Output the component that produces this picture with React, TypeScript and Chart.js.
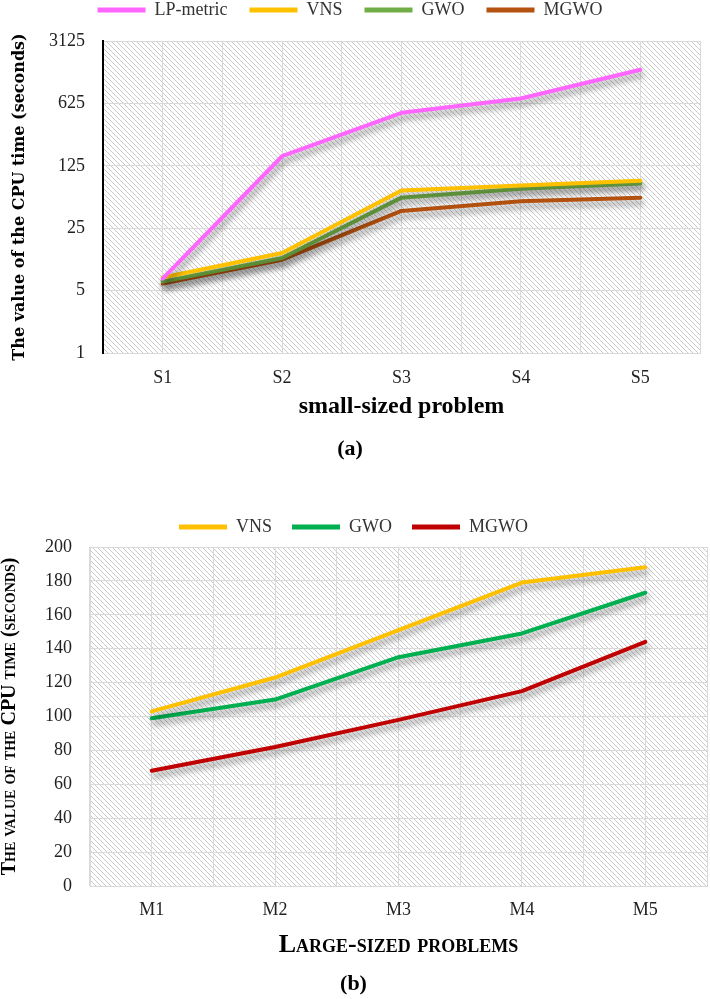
import React, { useEffect, useRef } from 'react';
import { Chart, registerables } from 'chart.js';

Chart.register(...registerables);

// ---------- data: panel (a) ----------
const smallProblems = ['S1', 'S2', 'S3', 'S4', 'S5'];
const lpMetricSmall = [6.8, 160, 490, 710, 1490];
const vnsSmall = [7.0, 13.2, 66, 75, 85];
const gwoSmall = [6.3, 11.6, 55, 69, 79];
const mgwoSmall = [6.0, 11.1, 39, 50, 55];
const logTicksSmall = [1, 5, 25, 125, 625, 3125];

// ---------- data: panel (b) ----------
const largeProblems = ['M1', 'M2', 'M3', 'M4', 'M5'];
const vnsLarge = [103, 123, 151, 179, 188];
const gwoLarge = [99, 110, 135, 149, 173];
const mgwoLarge = [68, 82, 98, 115, 144];
const linearTicksLarge = [0, 20, 40, 60, 80, 100, 120, 140, 160, 180, 200];

const GRID = '#d9d9d9';
const SERIF = "'Liberation Serif', 'Times New Roman', serif";

function makeHatch(ctx: CanvasRenderingContext2D) {
  const n = 5;
  const c = document.createElement('canvas');
  c.width = n;
  c.height = n;
  const g = c.getContext('2d')!;
  g.fillStyle = '#ffffff';
  g.fillRect(0, 0, n, n);
  g.strokeStyle = '#cacaca';
  g.lineWidth = 1;
  g.beginPath();
  g.moveTo(-1, -1);
  g.lineTo(n + 1, n + 1);
  g.moveTo(n - 1, -1);
  g.lineTo(n + 1, 1);
  g.moveTo(-1, n - 1);
  g.lineTo(1, n + 1);
  g.stroke();
  return ctx.createPattern(c, 'repeat');
}

const hatchPlugin = {
  id: 'hatchBg',
  beforeDraw(chart: any) {
    const { ctx, chartArea } = chart;
    if (!chartArea) return;
    const pat = makeHatch(ctx);
    ctx.save();
    ctx.fillStyle = pat || '#fff';
    ctx.fillRect(chartArea.left, chartArea.top, chartArea.right - chartArea.left, chartArea.bottom - chartArea.top);
    ctx.restore();
  },
};

const shadowPlugin = {
  id: 'lineShadow',
  beforeDatasetDraw(chart: any) {
    const ctx = chart.ctx;
    ctx.save();
    ctx.shadowColor = 'rgba(0,0,0,0.4)';
    ctx.shadowBlur = 6;
    ctx.shadowOffsetX = 2;
    ctx.shadowOffsetY = 5;
  },
  afterDatasetDraw(chart: any) {
    chart.ctx.restore();
  },
};

function series(label: string, data: number[], color: string) {
  return {
    label,
    data,
    borderColor: color,
    backgroundColor: color,
    borderWidth: 4,
    pointRadius: 0,
    pointHoverRadius: 0,
    tension: 0,
    fill: false,
    borderCapStyle: 'round',
    borderJoinStyle: 'round',
  };
}

function legendOptions(padding: number) {
  return {
    display: true,
    position: 'top',
    align: 'center',
    labels: {
      boxWidth: 48,
      boxHeight: 5,
      padding,
      color: '#333',
      font: { family: SERIF, size: 18 },
      generateLabels: (chart: any) =>
        (Chart.defaults.plugins.legend.labels as any)
          .generateLabels(chart)
          .map((l: any) => ({ ...l, lineWidth: 0 })),
    },
  };
}

function configA(): any {
  return {
    type: 'line',
    data: {
      labels: smallProblems,
      datasets: [
        series('LP-metric', lpMetricSmall, '#FF66FF'),
        series('VNS', vnsSmall, '#FFC000'),
        series('GWO', gwoSmall, '#70AD47'),
        series('MGWO', mgwoSmall, '#B5520F'),
      ],
    },
    options: {
      responsive: false,
      animation: false,
      events: [],
      layout: { padding: { top: -21, right: 10, bottom: 0, left: 0 } },
      plugins: {
        legend: legendOptions(22),
        tooltip: { enabled: false },
        title: {
          display: true,
          position: 'bottom',
          text: '(a)',
          color: '#000',
          font: { family: SERIF, size: 22, weight: 'bold', lineHeight: 1.2 },
          padding: { top: 0, bottom: 7 },
        },
      },
      scales: {
        x: {
          type: 'category',
          offset: true,
          grid: { color: GRID, offset: true, drawTicks: false },
          border: { color: GRID },
          ticks: { color: '#222', padding: 14, font: { family: SERIF, size: 18 } },
          title: {
            display: true,
            text: 'small-sized problem',
            color: '#000',
            font: { family: SERIF, size: 24, weight: 'bold', lineHeight: 1.2 },
            padding: { top: 0, bottom: 15 },
          },
          afterFit: (s: any) => { s.height = 83.6; },
        },
        x2: {
          type: 'category',
          position: 'top',
          offset: true,
          grid: { color: GRID, offset: false, drawTicks: false },
          border: { display: false },
          ticks: { display: false },
          afterFit: (s: any) => { s.height = 12; },
        },
        y: {
          type: 'logarithmic',
          min: 1,
          max: 3125,
          afterBuildTicks: (s: any) => { s.ticks = logTicksSmall.map((v) => ({ value: v })); },
          grid: { color: GRID, drawTicks: false },
          border: { color: '#000', width: 2 },
          ticks: {
            color: '#222',
            padding: 18,
            font: { family: SERIF, size: 18 },
            callback: (v: any) => String(v),
          },
          title: {
            display: true,
            text: 'The value of the CPU time (seconds)',
            color: '#000',
            font: { family: "'DejaVu Serif', serif", size: 16, weight: 'bold', lineHeight: 1.2 },
            padding: { top: 10, bottom: 0 },
          },
          afterFit: (s: any) => { s.width = 103; },
        },
      },
    },
    plugins: [hatchPlugin, shadowPlugin],
  };
}

function configB(): any {
  return {
    type: 'line',
    data: {
      labels: largeProblems,
      datasets: [
        series('VNS', vnsLarge, '#FFC000'),
        series('GWO', gwoLarge, '#00B050'),
        series('MGWO', mgwoLarge, '#C00000'),
      ],
    },
    options: {
      responsive: false,
      animation: false,
      events: [],
      layout: { padding: { top: -2, right: 3, bottom: 0, left: 0 } },
      plugins: {
        legend: legendOptions(20),
        tooltip: { enabled: false },
        title: {
          display: true,
          position: 'bottom',
          text: '(b)',
          color: '#000',
          font: { family: SERIF, size: 22, weight: 'bold', lineHeight: 1.2 },
          padding: { top: 0, bottom: 1 },
        },
      },
      scales: {
        x: {
          type: 'category',
          offset: true,
          grid: { color: GRID, offset: true, drawTicks: false },
          border: { color: GRID },
          ticks: { color: '#222', padding: 13, font: { family: SERIF, size: 18 } },
          title: {
            display: true,
            text: 'Large-sized problems',
            color: '#000',
            font: { family: SERIF, size: 26, weight: 'small-caps bold', lineHeight: 1.2 },
            padding: { top: 0, bottom: 11 },
          },
          afterFit: (s: any) => { s.height = 85.6; },
        },
        x2: {
          type: 'category',
          position: 'top',
          offset: true,
          grid: { color: GRID, offset: false, drawTicks: false },
          border: { display: false },
          ticks: { display: false },
          afterFit: (s: any) => { s.height = 1; },
        },
        y: {
          type: 'linear',
          min: 0,
          max: 200,
          afterBuildTicks: (s: any) => { s.ticks = linearTicksLarge.map((v) => ({ value: v })); },
          grid: { color: GRID, drawTicks: false },
          border: { color: GRID },
          ticks: {
            color: '#222',
            padding: 18,
            font: { family: SERIF, size: 18 },
            callback: (v: any) => String(v),
          },
          title: {
            display: true,
            text: 'The value of the CPU time (seconds)',
            color: '#000',
            font: { family: SERIF, size: 20, weight: 'small-caps bold', lineHeight: 1.0 },
            padding: { top: 0, bottom: 0 },
          },
          afterFit: (s: any) => { s.width = 90; },
        },
      },
    },
    plugins: [hatchPlugin, shadowPlugin],
  };
}

function ChartCanvas({ make, width, height, top }: { make: () => any; width: number; height: number; top: number }) {
  const ref = useRef<HTMLCanvasElement | null>(null);
  useEffect(() => {
    if (!ref.current) return;
    const chart = new Chart(ref.current, make());
    return () => chart.destroy();
  }, [make]);
  return (
    <canvas
      ref={ref}
      width={width}
      height={height}
      style={{ position: 'absolute', left: 0, top, width, height, display: 'block' }}
    />
  );
}

export default function App() {
  return (
    <div style={{ position: 'absolute', left: 0, top: 0, width: 710, height: 999, background: '#fff', overflow: 'hidden' }}>
      <ChartCanvas make={configA} width={710} height={470} top={0} />
      <ChartCanvas make={configB} width={710} height={499} top={500} />
    </div>
  );
}
